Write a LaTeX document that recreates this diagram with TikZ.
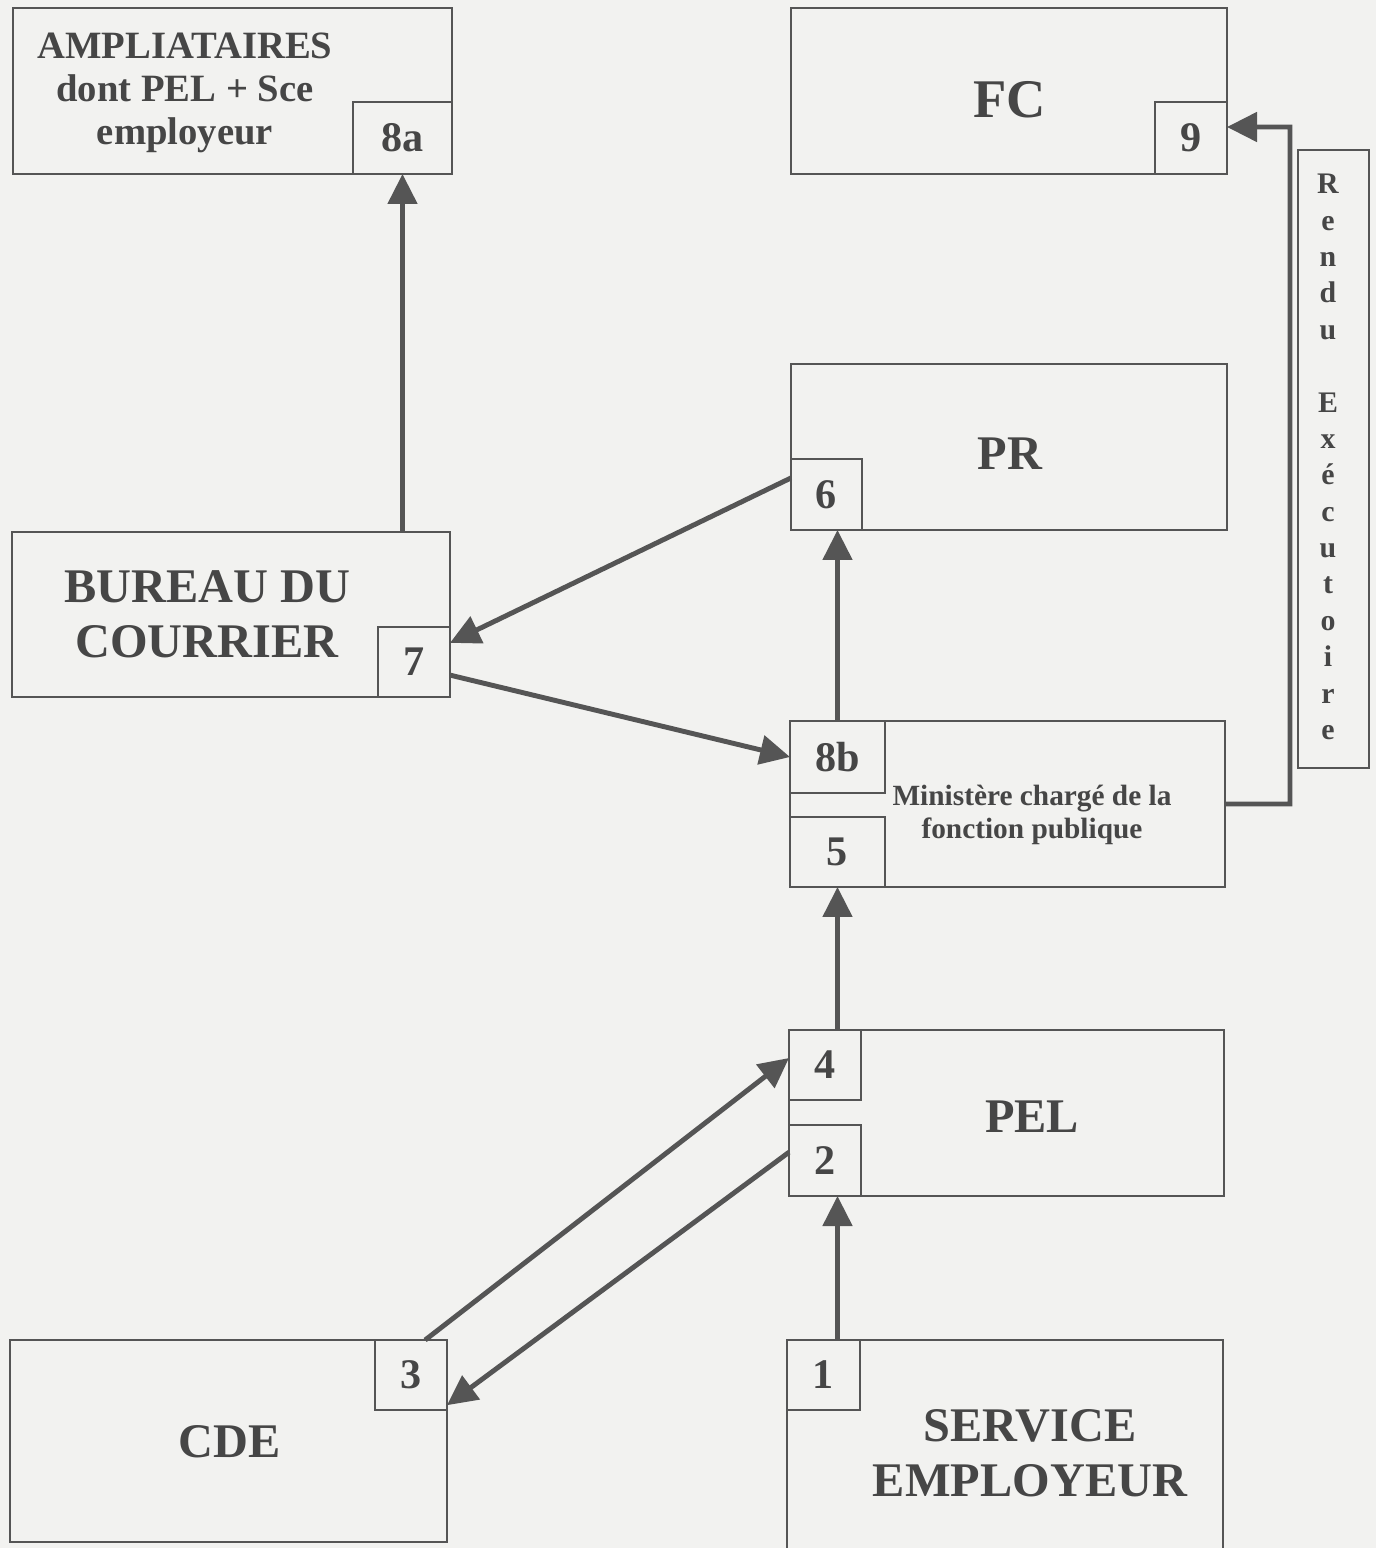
\documentclass[tikz,border=0pt]{standalone}
\usepackage{fontspec}
\setmainfont{Liberation Serif}
\usetikzlibrary{arrows.meta}

\definecolor{papier}{RGB}{242,242,240}
\definecolor{encre}{RGB}{70,70,70}
\definecolor{trait}{RGB}{85,85,85}

\tikzset{
	cadre/.style={draw=trait, line width=1.2pt, inner sep=0pt, outer sep=0pt},
	numero/.style={cadre, text=encre, font=\fontsize{24}{26}\selectfont\bfseries},
	titre/.style={text=encre, align=center, font=\fontsize{27.5}{31.2}\selectfont\bfseries},
	fleche/.style={draw=trait, line width=2.8pt, -{Triangle[length=0.6cm,width=0.58cm]}}
}

\begin{document}
\begin{tikzpicture}[x=0.02cm, y=-0.02cm]
	\useasboundingbox (0,0) rectangle (1376,1548);
	\fill[papier] (0,0) rectangle (1376,1548);
	\clip (0,0) rectangle (1376,1548);

	% grands cadres
	\node[cadre, minimum width=8.78cm, minimum height=3.32cm] (ampl) at (232.5,91) {};
	\node[cadre, minimum width=8.72cm, minimum height=3.32cm] (fc) at (1009,91) {};
	\node[cadre, minimum width=8.72cm, minimum height=3.32cm] (pr) at (1009,447) {};
	\node[cadre, minimum width=8.76cm, minimum height=3.30cm] (bureau) at (231,614.5) {};
	\node[cadre, minimum width=8.70cm, minimum height=3.32cm] (mfp) at (1007.5,804) {};
	\node[cadre, minimum width=8.70cm, minimum height=3.32cm] (pel) at (1006.5,1113) {};
	\node[cadre, minimum width=8.74cm, minimum height=4.04cm] (cde) at (228.5,1441) {};
	\node[cadre, minimum width=8.72cm, minimum height=5.20cm] (serv) at (1005,1470) {};

	% textes
	\node[titre, font=\fontsize{22}{24.4}\selectfont\bfseries] (tampl) at (185,93) {AMPLIATAIRES\\dont PEL + Sce\\employeur};
	\node[titre, font=\fontsize{31}{34}\selectfont\bfseries] (tfc) at (1010,100) {FC};
	\node[titre] (tpr) at (1010,454) {PR};
	\node[titre] (tbureau) at (207,614) {BUREAU DU\\COURRIER};
	\node[titre, font=\fontsize{16.7}{18.6}\selectfont\bfseries] (tmfp) at (1032,815) {Ministère chargé de la\\fonction publique};
	\node[titre] (tpel) at (1032,1117) {PEL};
	\node[titre] (tcde) at (230,1442) {CDE};
	\node[titre] (tserv) at (1030,1453) {SERVICE\\EMPLOYEUR};

	% numeros
	\node[numero, minimum width=1.98cm, minimum height=1.44cm] (n8a) at (402.5,138) {8a};
	\node[numero, minimum width=1.44cm, minimum height=1.44cm] (n9) at (1191,138) {9};
	\node[numero, minimum width=1.42cm, minimum height=1.42cm] (n6) at (826.5,494.5) {6};
	\node[numero, minimum width=1.44cm, minimum height=1.40cm] (n7) at (414,662) {7};
	\node[numero, minimum width=1.90cm, minimum height=1.44cm] (n8b) at (837.5,757) {8b};
	\node[numero, minimum width=1.90cm, minimum height=1.40cm] (n5) at (837.5,852) {5};
	\node[numero, minimum width=1.44cm, minimum height=1.40cm] (n4) at (825,1065) {4};
	\node[numero, minimum width=1.44cm, minimum height=1.42cm] (n2) at (825,1160.5) {2};
	\node[numero, minimum width=1.44cm, minimum height=1.40cm] (n3) at (411,1375) {3};
	\node[numero, minimum width=1.46cm, minimum height=1.40cm] (n1) at (823.5,1375) {1};

	% rendu executoire
	\node[cadre, minimum width=1.42cm, minimum height=12.36cm] (rendu) at (1333.5,459) {};
	\node[text=encre, align=center, font=\fontsize{17}{20.7}\selectfont\bfseries] (trendu) at (1328,457)
		{R\\e\\n\\d\\u\\[20.7pt]E\\x\\é\\c\\u\\t\\o\\i\\r\\e};

	% fleches
	\draw[fleche] (n1.north -| n5.south) -- (n2.south -| n5.south);
	\draw[fleche] (n2.167) -- (n3.-40);
	\draw[fleche] (n3.68) -- (n4.169);
	\draw[fleche] (n4.north -| n5.south) -- (n5.south);
	\draw[fleche] (n8b.north) -- (n6.south -| n8b.north);
	\draw[fleche] (n6.155) -- (n7.28);
	\draw[fleche] (n7.-20) -- (n8b.west);
	\draw[fleche] (bureau.north -| n8a.south) -- (n8a.south);
	\coordinate (coude) at (1290,127);
	\draw[fleche] (mfp.east) -| (coude) -- (n9.17);
\end{tikzpicture}
\end{document}
